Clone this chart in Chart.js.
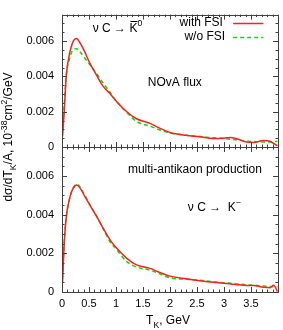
<!DOCTYPE html>
<html>
<head>
<meta charset="utf-8">
<script src="https://cdn.jsdelivr.net/npm/chart.js@4.4.1/dist/chart.umd.min.js"></script>
<style>
  html, body { margin: 0; padding: 0; background: #fff; }
  #wrap { position: relative; width: 283px; height: 330px; }
  canvas { position: absolute; left: 0; top: 0; }
</style>
</head>
<body>
<div id="wrap">
  <canvas id="top" width="283" height="330"></canvas>
  <canvas id="bottom" width="283" height="330"></canvas>
</div>
<script>
// kaon kinetic energy, GeV
const tk = [0.01, 0.04, 0.08, 0.13, 0.17, 0.22, 0.27, 0.33, 0.42, 0.51, 0.64, 0.76, 0.89, 1.01, 1.2, 1.38,
            1.63, 1.8, 2.0, 2.3, 2.56, 2.8, 3.05, 3.12, 3.25, 3.42, 3.55, 3.73, 3.85, 3.92, 3.99];

// top panel: nu C -> K0bar
const k0WithFsi = [0.0006, 0.00196, 0.00407, 0.00513, 0.00566, 0.00605, 0.00615, 0.00592, 0.0054, 0.00478, 0.00407,
                   0.00345, 0.00302, 0.00258, 0.002, 0.0016, 0.00134, 0.00108, 0.00082, 0.00066, 0.00058, 0.00048,
                   0.00052, 0.00054, 0.00045, 0.00028, 0.00026, 0.00037, 0.00033, 0.0002, 0.00007];
const k0NoFsi = [0.0009, 0.0023, 0.0041, 0.00487, 0.0053, 0.00555, 0.00557, 0.0054, 0.00504, 0.00469, 0.00416,
                 0.00363, 0.0031, 0.00258, 0.00196, 0.00145, 0.00118, 0.00098, 0.0008, 0.00066, 0.00059, 0.00052,
                 0.00046, 0.00044, 0.00041, 0.00033, 0.00031, 0.00028, 0.00029, 0.0003, 0.00032];

// bottom panel: nu C -> K-
const kmWithFsi = [0.0005, 0.00244, 0.0039, 0.0047, 0.00514, 0.00542, 0.00553, 0.0054, 0.00496, 0.00453, 0.00392,
                   0.00331, 0.0027, 0.00227, 0.00174, 0.0014, 0.00122, 0.00102, 0.00082, 0.00068, 0.00058, 0.0005,
                   0.00044, 0.00042, 0.00038, 0.00034, 0.00033, 0.00025, 0.00022, 0.00035, 0.00002];
const kmNoFsi = [0.0007, 0.0026, 0.0039, 0.0047, 0.0051, 0.00545, 0.00557, 0.00545, 0.00502, 0.00455, 0.00392,
                 0.00328, 0.0026, 0.0022, 0.00157, 0.0013, 0.00113, 0.00095, 0.00073, 0.00066, 0.00061, 0.00053,
                 0.00047, 0.00045, 0.00042, 0.00037, 0.00035, 0.00031, 0.00028, 0.00027, 0.00026];

const xTicks = [0, 0.5, 1, 1.5, 2, 2.5, 3, 3.5, 4];
const xLabels = ['0', '0.5', '1', '1.5', '2', '2.5', '3', '3.5', ''];
const yTicks = [0, 0.002, 0.004, 0.006];
const yLabels = ['0', '0.002', '0.004', '0.006'];

const FONT = '"Liberation Sans", Arial, Helvetica, sans-serif';
const RED = 'rgb(255,30,30)';
const GREEN = 'rgb(0,225,0)';
const AXIS = '#404040';

function pts(ys) {
    return tk.map(function (x, i) { return { x: x, y: ys[i] }; });
}

// draw a run of [text, mode] parts where mode is '', 'sub' or 'sup'
function richText(ctx, parts, x, y, size, align) {
    const widths = parts.map(function (p) {
        ctx.font = (p[1] ? size * 0.72 : size) + 'px ' + FONT;
        return ctx.measureText(p[0]).width;
    });
    const total = widths.reduce(function (a, b) { return a + b; }, 0);
    let cx = align === 'center' ? x - total / 2 : (align === 'right' ? x - total : x);
    parts.forEach(function (p, i) {
        ctx.font = (p[1] ? size * 0.72 : size) + 'px ' + FONT;
        const dy = p[1] === 'sub' ? size * 0.3 : (p[1] === 'sup' ? -size * 0.4 : 0);
        ctx.fillText(p[0], cx, y + dy);
        if (p[2] === 'bar') {
            ctx.fillRect(cx + 1, Math.round(y - size * 0.62), widths[i] - 1, 1);
        }
        cx += widths[i];
    });
}

// gnuplot-style frame with inward ticks on all four sides
const framePlugin = {
    id: 'frame',
    afterDatasetsDraw(chart) {
        const ctx = chart.ctx;
        const a = chart.chartArea;
        const xs = chart.scales.x, ys = chart.scales.y;
        ctx.save();
        ctx.strokeStyle = AXIS;
        ctx.lineWidth = 1;
        ctx.beginPath();
        for (let v = 0; v <= 4.0001; v += 0.1) {
            const px = Math.round(xs.getPixelForValue(v)) + 0.5;
            const major = Math.abs(v / 0.5 - Math.round(v / 0.5)) < 1e-6;
            const len = major ? 5 : 2.5;
            ctx.moveTo(px, a.bottom); ctx.lineTo(px, a.bottom - len);
            ctx.moveTo(px, a.top); ctx.lineTo(px, a.top + len);
        }
        for (let v = 0; v <= 0.0075001; v += 0.0005) {
            const py = Math.round(ys.getPixelForValue(v)) + 0.5;
            const major = Math.abs(v / 0.002 - Math.round(v / 0.002)) < 1e-6;
            const len = major ? 5 : 2.5;
            ctx.moveTo(a.left, py); ctx.lineTo(a.left + len, py);
            ctx.moveTo(a.right, py); ctx.lineTo(a.right - len, py);
        }
        ctx.stroke();
        ctx.strokeRect(Math.round(a.left) + 0.5, Math.round(a.top) + 0.5,
                       Math.round(a.right - a.left), Math.round(a.bottom - a.top));
        ctx.restore();
    }
};

// in-plot labels, placed in data coordinates
const labelsPlugin = {
    id: 'labels',
    afterDraw(chart, args, opts) {
        const ctx = chart.ctx;
        const xs = chart.scales.x, ys = chart.scales.y;
        ctx.save();
        ctx.fillStyle = '#000';
        ctx.textBaseline = 'middle';
        (opts.items || []).forEach(function (it) {
            richText(ctx, it.parts, xs.getPixelForValue(it.x), ys.getPixelForValue(it.y), 12, it.align || 'left');
            if (it.line) {
                ctx.strokeStyle = it.line.color;
                ctx.lineWidth = 1.5;
                ctx.setLineDash(it.line.dash || []);
                ctx.beginPath();
                const py = Math.round(ys.getPixelForValue(it.y)) + 0.5;
                ctx.moveTo(xs.getPixelForValue(it.line.from), py);
                ctx.lineTo(xs.getPixelForValue(it.line.to), py);
                ctx.stroke();
                ctx.setLineDash([]);
            }
        });
        if (opts.axisTitles) {
            ctx.textBaseline = 'alphabetic';
            richText(ctx, [['T', ''], ['K', 'sub'], [', GeV', '']], 168, 324, 12, 'center');
            ctx.translate(12, 137);
            ctx.rotate(-Math.PI / 2);
            richText(ctx, [['dσ/dT', ''], ['K', 'sub'], ['/A, 10', ''], ['-38', 'sup'], ['cm', ''], ['2', 'sup'], ['/GeV', '']],
                     0, 0, 12, 'center');
        }
        ctx.restore();
    }
};

function makeChart(id, redData, greenData, padTop, padBottom, showX, items) {
    return new Chart(document.getElementById(id), {
        type: 'line',
        data: {
            datasets: [
                { label: 'with FSI', data: pts(redData), borderColor: RED, borderWidth: 1.5,
                  pointRadius: 0, cubicInterpolationMode: 'monotone', fill: false },
                { label: 'w/o FSI', data: pts(greenData), borderColor: GREEN, borderWidth: 1.5,
                  borderDash: [4, 3], pointRadius: 0, cubicInterpolationMode: 'monotone', fill: false },
            ],
        },
        options: {
            responsive: false,
            animation: false,
            events: [],
            layout: { padding: { top: padTop, bottom: padBottom, left: 0, right: 5 } },
            plugins: {
                legend: { display: false },
                tooltip: { enabled: false },
                labels: { items: items, axisTitles: showX },
            },
            scales: {
                x: {
                    type: 'linear', min: 0, max: 4,
                    grid: { display: false, drawTicks: false },
                    border: { display: false },
                    afterBuildTicks: function (s) { s.ticks = xTicks.map(function (v) { return { value: v }; }); },
                    afterFit: function (s) { s.height = showX ? 38 : 0; },
                    ticks: {
                        display: showX, autoSkip: false, maxRotation: 0, padding: 5, color: '#000',
                        font: { family: FONT, size: 11 },
                        callback: function (v, i) { return xLabels[i]; },
                    },
                },
                y: {
                    min: 0, max: 0.0075,
                    grid: { display: false, drawTicks: false },
                    border: { display: false },
                    afterBuildTicks: function (s) { s.ticks = yTicks.map(function (v) { return { value: v }; }); },
                    afterFit: function (s) { s.width = 62; },
                    ticks: {
                        padding: 8, color: '#000',
                        font: { family: FONT, size: 11 },
                        callback: function (v, i) { return yLabels[i]; },
                    },
                },
            },
        },
        plugins: [framePlugin, labelsPlugin],
    });
}

makeChart('top', k0WithFsi, k0NoFsi, 5, 330 - 147, false, [
    { x: 0.57, y: 0.00672, parts: [['ν C → ', ''], ['K', '', 'bar'], ['0', 'sup']] },
    { x: 2.98, y: 0.00703, parts: [['with FSI', '']], align: 'right', line: { color: RED, from: 3.17, to: 3.73 } },
    { x: 3.02, y: 0.00624, parts: [['w/o FSI', '']], align: 'right', line: { color: GREEN, from: 3.17, to: 3.73, dash: [4, 3] } },
    { x: 1.59, y: 0.00365, parts: [['NOvA flux', '']] },
]);

makeChart('bottom', kmWithFsi, kmNoFsi, 147, 0, true, [
    { x: 1.22, y: 0.00635, parts: [['multi-antikaon production', '']] },
    { x: 2.33, y: 0.00437, parts: [['ν C →  K', ''], ['−', 'sup']] },
]);
</script>
</body>
</html>
